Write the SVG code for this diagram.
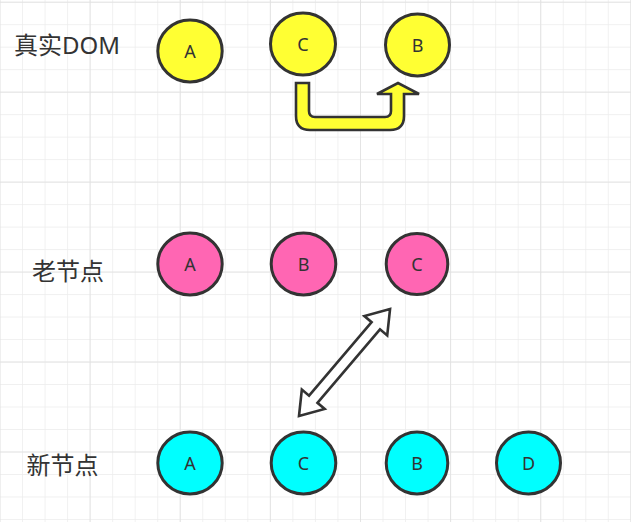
<svg xmlns="http://www.w3.org/2000/svg" width="631" height="522" viewBox="0 0 631 522">
<style>
.n{stroke:#333;stroke-width:3}
.y{fill:#ffff33}
.p{fill:#ff66b3}
.c{fill:#00ffff}
.t{font-family:"Noto Sans","Liberation Sans",sans-serif;font-size:18px;fill:#333;text-anchor:middle}
.lbl{font-family:"Noto Sans","Noto Sans CJK SC",sans-serif;font-size:24px;fill:#333}
.conn{stroke:#333;stroke-width:2.6;stroke-linejoin:miter}
</style>
<defs>
<pattern id="gm" patternUnits="userSpaceOnUse" x="-0.5" y="1.7" width="22.53" height="22.49">
<path d="M0,0H22.53M0,0V22.49" fill="none" stroke="#ececec" stroke-width="1.4"/>
</pattern>
<pattern id="gM" patternUnits="userSpaceOnUse" x="-0.5" y="1.7" width="90.12" height="89.96">
<path d="M0,0H90.12M0,0V89.96" fill="none" stroke="#e0e0e0" stroke-width="1.6"/>
</pattern>
</defs>
<rect width="631" height="522" fill="#fff"/>
<rect width="631" height="522" fill="url(#gm)"/>
<rect width="631" height="522" fill="url(#gM)"/>

<g id="labels">
<text class="lbl" x="14" y="54">真实DOM</text>
<text class="lbl" x="32" y="280">老节点</text>
<text class="lbl" x="26.5" y="473.5">新节点</text>
</g>

<g id="connectors">
<path class="conn" fill="#ffff33" d="M296,83 H309 V111 Q309,117 315,117 H385 Q391,117 391,111 V94 H377 L398,83 L419,94 H404 V116 Q404,130 390,130 H310 Q296,130 296,116 Z"/>
<polygon class="conn" fill="#fff" transform="translate(299,416) rotate(-49.6)" points="0,0 22,-15 22,-5.5 118.5,-5.5 118.5,-15 140.5,0 118.5,15 118.5,5.5 22,5.5 22,15"/>
</g>

<g id="real-A"><ellipse class="n y" cx="190" cy="51" rx="32.2" ry="31"/><text class="t" x="190" y="57.5">A</text></g>
<g id="real-C"><ellipse class="n y" cx="303" cy="44" rx="32.5" ry="31"/><text class="t" x="303" y="50.5">C</text></g>
<g id="real-B"><ellipse class="n y" cx="417.5" cy="45" rx="32" ry="31"/><text class="t" x="417.5" y="51.5">B</text></g>

<g id="old-A"><ellipse class="n p" cx="190" cy="264" rx="32.2" ry="31"/><text class="t" x="190" y="270.5">A</text></g>
<g id="old-B"><ellipse class="n p" cx="303.5" cy="264" rx="32.3" ry="31"/><text class="t" x="303.5" y="270.5">B</text></g>
<g id="old-C"><ellipse class="n p" cx="417" cy="264" rx="30.8" ry="30.5"/><text class="t" x="417" y="270.5">C</text></g>

<g id="new-A"><ellipse class="n c" cx="190" cy="463" rx="32.2" ry="31"/><text class="t" x="190" y="469.5">A</text></g>
<g id="new-C"><ellipse class="n c" cx="303.5" cy="463" rx="32.3" ry="31"/><text class="t" x="303.5" y="469.5">C</text></g>
<g id="new-B"><ellipse class="n c" cx="417" cy="463" rx="30.8" ry="31"/><text class="t" x="417" y="469.5">B</text></g>
<g id="new-D"><ellipse class="n c" cx="528.5" cy="463" rx="32" ry="31"/><text class="t" x="528.5" y="469.5">D</text></g>
</svg>
